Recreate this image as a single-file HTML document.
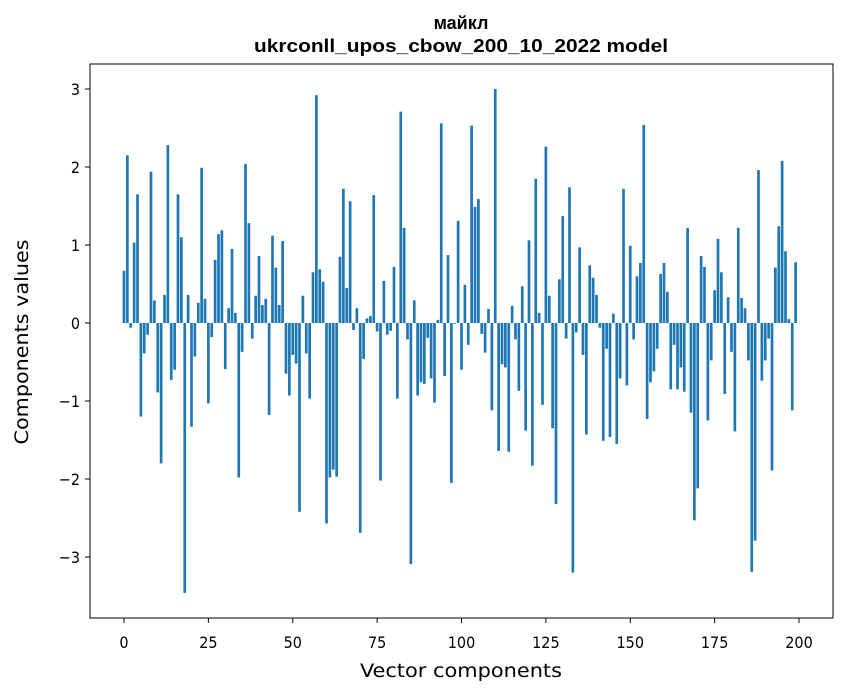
<!DOCTYPE html>
<html><head><meta charset="utf-8"><style>
html,body{margin:0;padding:0;background:#fff}
svg{display:block;font-family:"DejaVu Sans","Liberation Sans",sans-serif}
.tk{font-stretch:condensed;font-family:"DejaVu Sans Condensed","DejaVu Sans",sans-serif}
</style></head><body>
<svg id="chart" width="847" height="696">
<text x="461" y="29" text-anchor="middle" font-size="18" font-weight="bold" font-family="Liberation Sans, sans-serif">майкл</text>
<text x="461" y="52" text-anchor="middle" font-size="18" font-weight="bold" font-family="Liberation Sans, sans-serif" textLength="414" lengthAdjust="spacingAndGlyphs">ukrconll_upos_cbow_200_10_2022 model</text>
<g id="bars"></g>
<g id="axes"></g>
<text class="tk" x="461" y="677" text-anchor="middle" font-size="19" textLength="202" lengthAdjust="spacingAndGlyphs">Vector components</text>
<text class="tk" transform="translate(28,342) rotate(-90)" text-anchor="middle" font-size="19" textLength="205" lengthAdjust="spacingAndGlyphs">Components values</text>
</svg>
<script>
const values = [0.67,2.15,-0.06,1.03,1.65,-1.20,-0.39,-0.15,1.94,0.29,-0.89,-1.80,0.36,2.28,-0.73,-0.60,1.65,1.10,-3.46,0.36,
-1.33,-0.43,0.26,1.99,0.31,-1.03,-0.18,0.81,1.14,1.19,-0.59,0.19,0.95,0.13,-1.98,-0.37,2.04,1.28,-0.20,0.35,
0.86,0.23,0.31,-1.18,1.12,0.71,0.23,1.05,-0.65,-0.93,-0.41,-0.52,-2.42,0.35,-0.39,-0.97,0.65,2.92,0.69,0.53,
-2.57,-1.98,-1.88,-1.97,0.85,1.72,0.45,1.56,-0.09,0.19,-2.69,-0.46,0.06,0.09,1.64,-0.11,-2.02,0.54,-0.15,-0.10,
0.72,-0.97,2.71,1.22,-0.21,-3.09,0.29,-0.93,-0.76,-0.78,-0.19,-0.71,-1.02,0.04,2.56,-0.68,0.87,-2.05,-0.01,1.31,
-0.60,0.49,-0.28,2.53,1.49,1.59,-0.14,-0.38,0.18,-1.12,3.00,-1.64,-0.53,-0.57,-1.65,0.22,-0.21,-0.87,0.47,-1.38,
1.06,-1.83,1.85,0.13,-1.05,2.26,0.35,-1.35,-2.32,0.56,1.37,-0.20,1.74,-3.20,-0.12,0.97,-0.41,-1.43,0.74,0.58,
0.36,-0.06,-1.51,-0.33,-1.46,0.12,-1.55,-0.71,1.72,-0.80,0.99,-0.21,0.60,0.77,2.54,-1.23,-0.76,-0.62,-0.33,0.63,
0.77,0.40,-0.85,-0.28,-0.85,-0.57,-0.88,1.22,-1.15,-2.53,-2.12,0.86,0.72,-1.25,-0.48,0.42,1.08,0.65,-0.91,0.33,
-0.37,-1.39,1.22,0.32,0.19,-0.48,-3.19,-2.79,1.96,-0.74,-0.48,-0.20,-1.89,0.71,1.24,2.08,0.92,0.05,-1.12,0.78];
const xTicks = [0,25,50,75,100,125,150,175,200];
const yTicks = [-3,-2,-1,0,1,2,3];
const NS='http://www.w3.org/2000/svg';
const L=90,R=833,T=64,B=618;
function xs(v){return 124+(v)*3.375;}
function ys(v){return 323-v*78;}
const bars=document.getElementById('bars');
values.forEach((v,i)=>{
  const r=document.createElementNS(NS,'rect');
  const w=0.8*3.375;
  r.setAttribute('x',xs(i)-w/2);
  r.setAttribute('width',w);
  r.setAttribute('y',Math.min(ys(v),ys(0)));
  r.setAttribute('height',Math.abs(ys(v)-ys(0)));
  r.setAttribute('fill','#1f77b4');
  
  
  bars.appendChild(r);
});
const ax=document.getElementById('axes');
const f=document.createElementNS(NS,'rect');
f.setAttribute('x',L);f.setAttribute('y',T);f.setAttribute('width',R-L);f.setAttribute('height',B-T);
f.setAttribute('fill','none');f.setAttribute('stroke','#000');f.setAttribute('stroke-width','1');


ax.appendChild(f);
xTicks.forEach(t=>{
  const l=document.createElementNS(NS,'line');
  l.setAttribute('x1',xs(t));l.setAttribute('x2',xs(t));l.setAttribute('y1',B);l.setAttribute('y2',B+5);l.setAttribute('stroke','#000');
  
  
  ax.appendChild(l);
  const tx=document.createElementNS(NS,'text');
  tx.setAttribute('x',xs(t));tx.setAttribute('y',B+30);tx.setAttribute('text-anchor','middle');tx.setAttribute('font-size','16');
  tx.setAttribute('class','tk');
  tx.textContent=t;
  
  
  ax.appendChild(tx);
});
yTicks.forEach(t=>{
  const l=document.createElementNS(NS,'line');
  l.setAttribute('x1',L-5);l.setAttribute('x2',L);l.setAttribute('y1',ys(t));l.setAttribute('y2',ys(t));l.setAttribute('stroke','#000');
  
  
  ax.appendChild(l);
  const tx=document.createElementNS(NS,'text');
  tx.setAttribute('x',L-10);tx.setAttribute('y',ys(t)+6);tx.setAttribute('text-anchor','end');tx.setAttribute('font-size','16');
  tx.setAttribute('class','tk');
  tx.textContent=t<0?'\u2212'+Math.abs(t):t;
  
  
  ax.appendChild(tx);
});
</script>
</body></html>
